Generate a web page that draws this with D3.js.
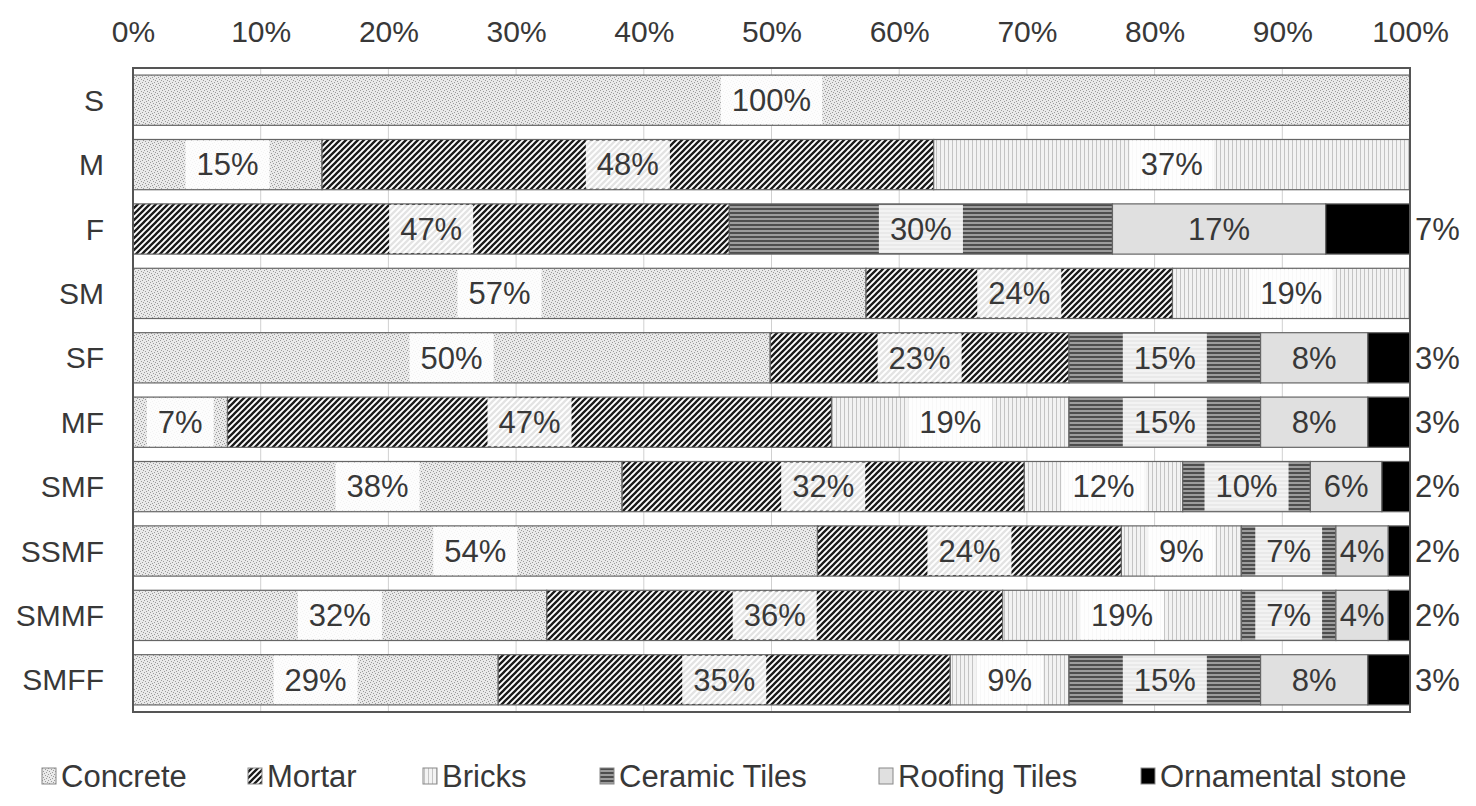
<!DOCTYPE html>
<html><head><meta charset="utf-8">
<script src="https://cdn.jsdelivr.net/npm/d3@7"></script>
<style>body{margin:0;background:#fff;} text{font-family:"Liberation Sans",Arial,sans-serif;}</style>
</head><body><svg id="c" width="1476" height="806"></svg>
<script>
const categories = ["S","M","F","SM","SF","MF","SMF","SSMF","SMMF","SMFF"];
const seriesNames = ["Concrete","Mortar","Bricks","Ceramic Tiles","Roofing Tiles","Ornamental stone"];
const concrete   = [100, 14.8, 0, 57.4, 49.9, 7.4, 38.3, 53.6, 32.4, 28.6];
const mortar     = [0, 47.9, 46.7, 24.0, 23.4, 47.3, 31.5, 23.8, 35.7, 35.4];
const bricks     = [0, 37.3, 0, 18.6, 0, 18.6, 12.4, 9.4, 18.7, 9.3];
const ceramic    = [0, 0, 30.0, 0, 15.0, 15.0, 10.0, 7.4, 7.4, 15.0];
const roofing    = [0, 0, 16.7, 0, 8.4, 8.4, 5.6, 4.1, 4.1, 8.4];
const ornamental = [0, 0, 6.6, 0, 3.3, 3.3, 2.2, 1.7, 1.7, 3.3];
const tickValues = [0,10,20,30,40,50,60,70,80,90,100];

const seriesData = [concrete, mortar, bricks, ceramic, roofing, ornamental];
const fills = ["url(#pConcrete)","url(#pMortar)","url(#pBricks)","url(#pCeramic)","#e0e0e0","#000"];
const TXT = "#383838";

const svg = d3.select("#c");
const defs = svg.append("defs");
const pc = defs.append("pattern").attr("id","pConcrete").attr("patternUnits","userSpaceOnUse").attr("width",6).attr("height",6);
pc.append("rect").attr("width",6).attr("height",6).attr("fill","#e9e9e9");
[[0,0],[3,1],[1,3],[4,4],[5,2],[2,5]].forEach(([x,y])=>pc.append("rect").attr("x",x).attr("y",y).attr("width",1).attr("height",1).attr("fill","#9a9a9a"));
const pm = defs.append("pattern").attr("id","pMortar").attr("patternUnits","userSpaceOnUse").attr("width",6).attr("height",6);
pm.append("rect").attr("width",6).attr("height",6).attr("fill","#fff");
pm.append("path").attr("d","M-1,7 L7,-1 M-1,1 L1,-1 M5,7 L7,5").attr("stroke","#1a1a1a").attr("stroke-width",2.3);
const pb = defs.append("pattern").attr("id","pBricks").attr("patternUnits","userSpaceOnUse").attr("width",4).attr("height",4);
pb.append("rect").attr("width",4).attr("height",4).attr("fill","#f3f3f3");
pb.append("rect").attr("x",0).attr("width",1).attr("height",4).attr("fill","#c4c4c4");
const pt = defs.append("pattern").attr("id","pCeramic").attr("patternUnits","userSpaceOnUse").attr("width",4).attr("height",4);
pt.append("rect").attr("width",4).attr("height",4).attr("fill","#9c9c9c");
pt.append("rect").attr("y",0).attr("width",4).attr("height",2).attr("fill","#4d4d4d");

const margin = {left:133, right:66, top:68, bottom:94};
const W = 1476, H = 806;
const x = d3.scaleLinear().domain([0,100]).range([margin.left, W - margin.right]);
const y = d3.scaleBand().domain(categories).range([margin.top, H - margin.bottom]).paddingInner(0.22).paddingOuter(0.11);

svg.append("g").selectAll("line").data(tickValues.slice(1,-1)).join("line")
  .attr("x1",d=>x(d)).attr("x2",d=>x(d)).attr("y1",margin.top).attr("y2",H-margin.bottom)
  .attr("stroke","#d0d0d0").attr("stroke-width",1);

const axis = d3.axisTop(x).tickValues(tickValues).tickFormat(d=>d+"%").tickSize(0).tickPadding(0);
const ga = svg.append("g").attr("transform",`translate(0,42)`).call(axis);
ga.select(".domain").remove();
ga.selectAll("text").attr("font-size",30).attr("fill",TXT).attr("dy","0");

const gy = svg.append("g").attr("transform",`translate(104,0)`).call(d3.axisLeft(y).tickSize(0).tickPadding(0));
gy.select(".domain").remove();
gy.selectAll("text").attr("font-size",30).attr("fill",TXT).attr("dy","0.35em");

const segs = [];
categories.forEach((c,i)=>{
  let acc = 0;
  seriesData.forEach((arr,s)=>{
    const v = arr[i];
    if (v>0) segs.push({cat:c, s, x0:acc, x1:acc+v, v});
    acc += v;
  });
});
const bh = y.bandwidth();
svg.append("g").selectAll("rect").data(segs).join("rect")
  .attr("x",d=>x(d.x0)).attr("width",d=>x(d.x1)-x(d.x0))
  .attr("y",d=>y(d.cat)).attr("height",bh)
  .attr("fill",d=>fills[d.s]).attr("stroke","#666").attr("stroke-width",1.2);

const lg = svg.append("g");
segs.forEach(d=>{
  const txt = Math.round(d.v)+"%";
  const cy = y(d.cat)+bh/2;
  if (d.s===5) {
    lg.append("text").attr("x",x(100)+5).attr("y",cy).attr("dy","0.35em").attr("font-size",31).attr("fill",TXT).text(txt);
    return;
  }
  const cx = (x(d.x0)+x(d.x1))/2;
  const t = lg.append("text").attr("x",cx).attr("y",cy).attr("dy","0.35em").attr("text-anchor","middle")
    .attr("font-size",31).attr("fill",TXT).text(txt);
  const w = t.node().getComputedTextLength()+22;
  lg.insert("rect","text").attr("x",cx-w/2).attr("y",y(d.cat)+1).attr("width",w).attr("height",bh-2)
    .attr("fill","#fff").attr("fill-opacity",d.s===4?0:0.88);
});
lg.selectAll("text").raise();

svg.append("rect").attr("x",margin.left).attr("y",margin.top).attr("width",x(100)-x(0)).attr("height",H-margin.bottom-margin.top)
  .attr("fill","none").attr("stroke","#555").attr("stroke-width",2);

const legX = [42, 248, 423, 600, 879, 1141];
const leg = svg.append("g");
seriesNames.forEach((n,i)=>{
  leg.append("rect").attr("x",legX[i]).attr("y",768).attr("width",14).attr("height",16)
    .attr("fill",fills[i]).attr("stroke","#888").attr("stroke-width",1);
  leg.append("text").attr("x",legX[i]+19).attr("y",787).attr("font-size",31).attr("fill",TXT).text(n);
});
</script></body></html>
